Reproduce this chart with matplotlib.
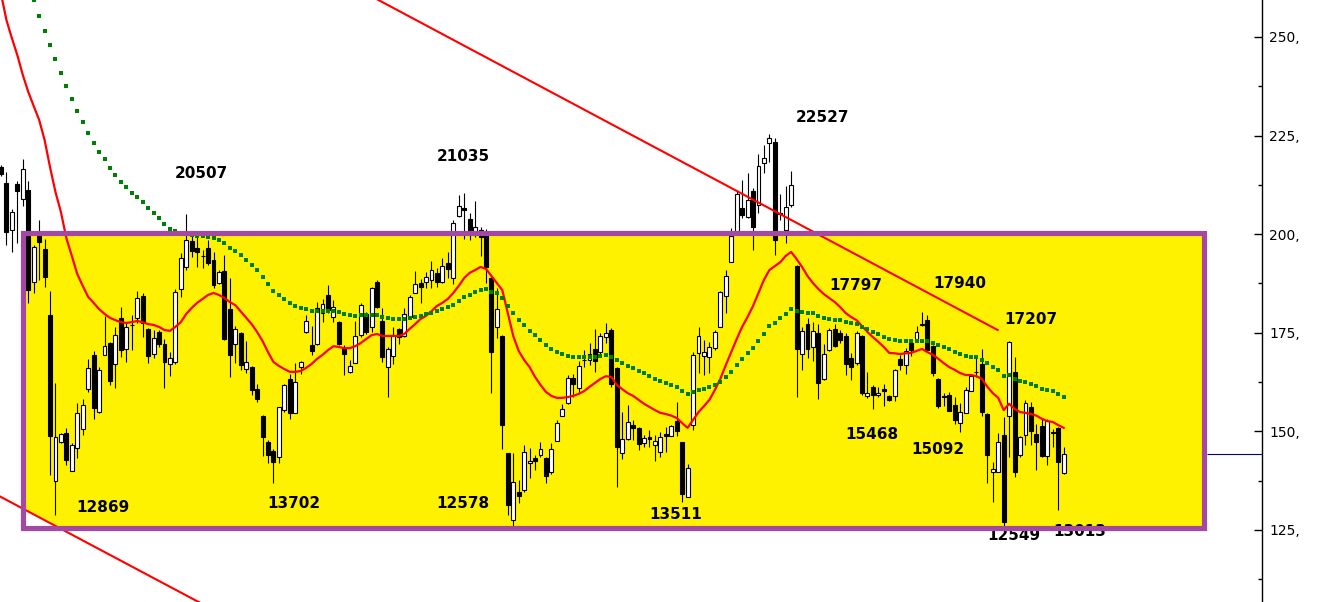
import matplotlib
matplotlib.use("Agg")
import matplotlib.pyplot as plt
from matplotlib.patches import Rectangle
import numpy as np

# ---------------- data ----------------
opens = [217.0, 212.9, 201.1, 212.7, 208.9, 211.2, 187.9, 199.5, 196.2, 179.5,
         137.4, 147.3, 149.6, 140.0, 145.8, 150.6, 160.8, 169.4, 154.9, 169.4,
         172.4, 167.1, 178.8, 170.9, 176.9, 178.8, 184.3, 176.0, 169.6, 175.2,
         172.2, 167.1, 167.6, 186.1, 191.7, 198.3, 196.5, 194.5, 196.5, 193.5,
         187.6, 190.7, 181.0, 172.2, 174.9, 165.8, 166.3, 160.8, 153.9, 147.3,
         145.0, 143.5, 155.4, 163.3, 154.7, 166.3, 175.2, 171.9, 172.2, 180.0,
         184.6, 179.0, 177.7, 171.1, 165.1, 167.3, 174.4, 179.8, 176.5, 187.9,
         178.0, 166.3, 169.1, 176.0, 174.2, 179.0, 185.1, 187.6, 187.9, 188.4,
         190.2, 187.9, 192.7, 188.9, 204.6, 206.6, 203.9, 200.3, 201.1, 199.8,
         188.9, 176.5, 174.2, 144.5, 127.5, 134.6, 135.1, 142.0, 143.3, 144.0,
         143.3, 139.7, 147.6, 153.9, 157.2, 163.5, 161.0, 168.1, 168.1, 170.9,
         170.1, 173.9, 175.7, 166.1, 144.5, 148.1, 151.6, 150.9, 147.1, 148.6,
         146.6, 144.8, 149.3, 148.8, 152.6, 147.3, 133.4, 151.6, 169.9, 169.1,
         168.9, 171.1, 176.5, 184.3, 193.0, 200.8, 206.6, 204.4, 211.0, 207.4,
         218.1, 223.1, 223.4, 205.4, 201.1, 207.4, 191.9, 169.6, 177.2, 171.4,
         174.9, 163.3, 170.6, 176.0, 174.9, 174.2, 168.6, 167.3, 174.2, 159.0,
         161.3, 159.2, 160.8, 159.0, 159.0, 168.4, 166.8, 172.4, 173.4, 177.2,
         178.2, 171.7, 163.3, 159.0, 159.2, 156.7, 152.1, 154.7, 160.2, 165.1,
         167.1, 154.4, 139.7, 139.7, 149.1, 153.9, 165.1, 144.0, 149.1, 156.2,
         149.3, 151.4, 143.8, 149.8, 150.9, 139.4]

highs = [217.5, 215.8, 206.4, 213.5, 219.1, 213.5, 197.3, 203.6, 198.8, 185.6,
         162.3, 149.6, 150.9, 147.1, 157.2, 158.2, 168.4, 170.4, 166.3, 179.3,
         172.7, 176.5, 181.5, 177.5, 179.5, 185.6, 185.1, 176.2, 175.7, 175.7,
         173.4, 170.1, 186.1, 195.2, 205.1, 199.8, 199.8, 196.0, 198.5, 195.5,
         190.9, 194.7, 188.9, 176.7, 175.2, 172.9, 166.6, 162.0, 154.2, 147.8,
         145.5, 156.2, 162.0, 164.6, 167.3, 167.8, 179.5, 176.7, 182.8, 183.6,
         187.1, 183.3, 178.0, 171.9, 168.1, 178.0, 182.5, 180.3, 186.6, 188.4,
         181.3, 171.4, 176.5, 176.2, 181.3, 184.6, 190.7, 188.6, 190.4, 193.2,
         191.4, 194.0, 195.5, 203.6, 209.9, 210.4, 205.4, 208.4, 201.8, 201.3,
         189.1, 186.4, 174.4, 144.5, 144.5, 137.7, 146.6, 145.8, 144.0, 147.3,
         143.5, 147.1, 152.9, 157.0, 164.3, 164.6, 167.8, 170.6, 172.4, 175.9,
         174.9, 177.5, 176.2, 166.3, 154.9, 156.7, 152.9, 151.1, 149.1, 150.4,
         149.1, 149.8, 151.1, 151.6, 157.5, 147.3, 141.7, 170.1, 176.5, 173.2,
         172.7, 175.7, 185.6, 190.9, 201.6, 211.2, 213.7, 215.5, 211.7, 220.3,
         222.6, 225.3, 224.4, 210.2, 212.2, 216.0, 192.2, 176.5, 178.8, 177.7,
         177.2, 172.2, 176.2, 177.2, 175.7, 174.9, 169.9, 175.5, 174.4, 165.1,
         161.8, 161.3, 162.0, 159.2, 165.8, 169.4, 171.1, 173.2, 176.7, 180.3,
         179.5, 171.9, 163.5, 159.7, 160.0, 158.7, 157.2, 161.3, 164.3, 168.6,
         170.9, 154.7, 142.2, 149.6, 153.6, 172.9, 168.9, 148.8, 158.0, 157.5,
         151.9, 153.4, 153.2, 150.6, 151.1, 146.0]

lows = [214.8, 197.3, 195.5, 197.8, 207.1, 182.5, 185.1, 188.4, 186.6, 138.9,
        128.7, 147.1, 141.5, 140.0, 143.3, 149.1, 160.0, 153.1, 154.7, 169.4,
        161.8, 161.0, 168.9, 167.6, 170.6, 177.5, 173.9, 167.3, 168.6, 171.4,
        161.0, 164.0, 167.1, 184.1, 190.9, 194.2, 191.7, 191.4, 192.2, 186.4,
        187.4, 173.2, 163.8, 167.3, 165.6, 164.8, 159.2, 157.5, 143.8, 142.0,
        137.0, 142.0, 154.9, 153.1, 154.7, 164.6, 174.9, 169.4, 171.9, 177.7,
        180.0, 177.7, 171.9, 164.3, 164.8, 167.3, 173.9, 174.7, 175.2, 181.3,
        167.6, 158.7, 167.1, 172.2, 173.9, 178.8, 185.1, 182.6, 186.4, 186.4,
        186.6, 187.6, 188.9, 187.4, 204.3, 198.8, 198.5, 199.3, 194.5, 187.6,
        159.7, 173.7, 145.5, 128.8, 125.8, 131.8, 134.6, 138.2, 140.2, 143.5,
        136.9, 139.2, 147.6, 153.9, 157.0, 158.7, 159.7, 166.3, 166.8, 165.1,
        169.4, 172.4, 161.3, 135.9, 143.0, 147.8, 147.8, 145.3, 146.0, 146.0,
        142.5, 143.5, 144.8, 148.8, 148.8, 132.1, 133.4, 150.4, 164.8, 164.3,
        164.8, 170.6, 176.5, 180.0, 193.0, 200.8, 204.1, 204.1, 196.0, 205.4,
        215.5, 218.3, 194.7, 203.6, 197.8, 206.9, 158.7, 165.6, 168.6, 167.8,
        158.2, 163.0, 170.4, 171.4, 172.4, 164.3, 163.0, 166.8, 159.2, 158.5,
        155.7, 158.7, 156.4, 157.7, 157.7, 165.6, 164.6, 169.1, 172.7, 176.7,
        170.1, 164.0, 155.9, 156.4, 155.2, 151.9, 149.8, 154.7, 160.2, 163.8,
        153.9, 136.9, 132.1, 139.7, 125.5, 143.5, 138.4, 143.5, 146.6, 146.6,
        140.2, 143.5, 141.5, 146.0, 130.1, 139.2]

closes = [215.3, 200.5, 205.6, 211.0, 216.5, 185.9, 196.8, 198.0, 189.1, 148.8,
          148.6, 149.3, 142.7, 146.6, 154.7, 156.7, 166.1, 155.9, 165.6, 171.7,
          162.8, 174.4, 170.6, 176.5, 177.0, 183.8, 177.5, 169.1, 173.7, 172.2,
          167.6, 168.6, 185.3, 194.0, 198.5, 195.7, 195.5, 194.4, 192.7, 187.1,
          190.4, 173.4, 169.4, 176.0, 166.8, 167.6, 160.5, 158.2, 148.6, 144.0,
          142.2, 156.2, 161.8, 154.7, 162.5, 167.6, 178.0, 170.4, 181.3, 182.3,
          180.8, 181.5, 172.2, 169.6, 166.6, 174.2, 182.0, 175.2, 186.4, 181.5,
          168.9, 170.9, 174.4, 173.9, 179.8, 184.1, 187.4, 186.6, 189.1, 190.9,
          187.9, 191.9, 191.2, 202.8, 207.1, 206.1, 200.3, 201.8, 199.3, 191.7,
          170.1, 181.0, 151.6, 131.3, 137.2, 133.6, 144.8, 142.5, 142.5, 145.5,
          138.7, 145.5, 152.1, 155.7, 163.5, 162.0, 166.6, 168.0, 169.6, 167.8,
          174.2, 174.9, 162.0, 146.0, 148.1, 152.4, 150.9, 146.8, 148.3, 148.1,
          147.6, 148.6, 148.8, 151.4, 150.1, 134.1, 140.7, 169.4, 174.2, 170.1,
          171.4, 175.2, 185.3, 189.4, 199.5, 210.2, 204.9, 208.7, 201.8, 217.3,
          219.3, 224.4, 198.5, 205.1, 206.9, 212.5, 170.9, 175.5, 170.9, 175.5,
          162.3, 169.6, 175.7, 171.7, 173.2, 167.1, 166.3, 174.9, 159.7, 159.7,
          159.2, 159.7, 160.2, 158.0, 165.6, 166.8, 170.4, 170.6, 175.2, 177.1,
          170.6, 164.8, 156.4, 158.7, 155.2, 152.9, 154.9, 160.5, 164.0, 165.0,
          154.9, 144.0, 140.5, 147.3, 127.0, 172.7, 139.7, 148.6, 157.2, 150.1,
          147.3, 143.8, 152.6, 149.7, 142.2, 144.2]

# red moving average, one value per candle
ma_red = [261.0, 254.3, 249.7, 245.4, 240.4, 236.1, 232.5, 229.0, 223.9, 217.0,
          210.7, 205.6, 199.0, 194.5, 189.9, 186.9, 184.1, 182.6, 181.0, 179.8,
          178.8, 178.2, 177.7, 177.5, 177.7, 178.0, 177.7, 177.2, 177.0, 176.5,
          175.7, 175.5, 176.5, 177.7, 179.8, 181.3, 182.6, 183.6, 184.6, 185.1,
          184.6, 183.8, 182.8, 182.0, 180.4, 178.8, 177.2, 175.2, 172.9, 170.1,
          167.6, 166.6, 165.8, 165.1, 165.1, 165.3, 166.1, 167.1, 168.4, 169.4,
          170.6, 171.6, 171.4, 171.1, 171.1, 171.6, 172.4, 173.4, 174.4, 174.7,
          174.2, 174.2, 174.2, 174.2, 174.7, 176.0, 177.2, 178.5, 179.3, 180.5,
          181.8, 182.6, 183.6, 185.1, 186.9, 188.9, 190.2, 190.9, 191.7, 191.2,
          189.4, 187.6, 185.8, 180.0, 174.2, 170.4, 168.1, 166.3, 163.8, 161.8,
          160.0, 159.0, 158.5, 158.5, 158.7, 159.0, 159.5, 160.2, 161.3, 162.3,
          163.3, 164.0, 163.8, 161.8, 160.7, 159.7, 159.0, 158.0, 157.0, 156.2,
          155.4, 154.7, 154.4, 154.0, 153.4, 152.1, 150.9, 152.9, 154.9, 156.4,
          158.0, 160.5, 163.3, 166.8, 170.1, 173.4, 176.5, 179.0, 181.8, 185.1,
          188.4, 190.9, 191.9, 192.9, 194.5, 195.5, 193.7, 191.7, 189.4, 187.6,
          186.1, 184.8, 183.8, 182.8, 181.5, 180.0, 179.0, 178.2, 176.7, 175.2,
          173.9, 172.7, 171.4, 169.9, 169.8, 169.6, 169.8, 169.9, 170.4, 170.9,
          170.1, 169.4, 168.4, 167.3, 166.3, 165.6, 164.8, 164.3, 164.3, 164.0,
          163.3, 161.3, 159.7, 158.5, 155.4, 157.0, 155.7, 154.9, 154.7, 154.4,
          154.0, 153.2, 152.6, 152.4, 151.6, 150.9]

# green (dotted) moving average, candles 6 .. 195
ma_green_start = 6
ma_green = [259.4, 255.3, 251.5, 248.0, 244.4, 240.9, 237.6, 234.3, 231.2, 228.5, 225.7, 223.1,
            220.8, 219.1, 216.8, 215.0, 213.2, 212.0, 210.4, 209.4, 208.2, 206.6, 205.4, 204.1, 202.6, 201.3, 200.8,
            200.3, 200.1, 199.8, 199.5, 199.5, 199.3, 199.0, 198.5, 197.8, 196.5, 195.7, 194.7, 193.5, 192.2, 190.9, 189.2, 187.4, 185.6,
            184.6, 183.6, 182.6, 181.8, 181.3, 181.0, 180.5, 180.5, 180.5, 180.5, 180.5, 180.3, 179.8, 179.5, 179.3,
            179.5, 179.5, 179.5, 179.5, 179.0, 178.8, 178.5, 178.5, 178.5, 178.8, 179.0, 179.3, 179.8, 180.0, 180.5,
            181.0, 181.5, 182.0, 183.1, 184.1, 184.6, 185.3, 185.9, 186.1, 185.3, 185.1, 183.8, 181.8, 180.0, 178.2,
            177.0, 175.4, 174.4, 173.2, 171.9, 170.9, 170.1, 169.6, 169.1, 168.9, 168.9, 168.9, 168.9, 168.9, 169.1,
            169.4, 168.9, 168.1, 167.3, 166.6, 166.1, 165.3, 164.8, 164.0, 163.3, 162.8, 162.3, 161.8, 161.3, 160.2,
            159.5, 160.0, 160.5, 160.7, 161.3, 161.8, 162.5, 163.8, 165.1, 166.8, 168.4, 169.9, 171.1, 172.9, 174.7,
            176.7, 177.5, 178.8, 179.8, 181.0, 180.5, 180.3, 180.0, 180.0, 179.3, 178.8, 178.5, 178.2, 178.2, 177.7,
            177.5, 177.2, 176.5, 176.0, 175.2, 174.7, 173.9, 173.4, 173.2, 172.9, 172.9, 172.9, 172.9, 172.9, 172.9,
            172.4, 171.9, 171.4, 170.9, 170.1, 169.6, 169.1, 168.9, 168.9, 168.1, 167.3, 166.3, 165.6, 164.0, 164.3,
            163.3, 162.8, 162.5, 162.0, 161.5, 160.7, 160.5, 160.2, 159.5, 158.7]

# trend lines (candle index, price)
trend_upper = [(60.0, 266.2), (182.9, 175.7)]
trend_lower = [(-1.0, 134.1), (40.0, 104.0)]

# annotations: text, candle index, price
labels = [("20507", 36.7, 215.3), ("21035", 84.8, 219.6), ("22527", 150.8, 229.7),
          ("17797", 156.9, 187.1), ("17940", 176.0, 187.4), ("17207", 189.0, 178.3),
          ("15468", 159.8, 149.1), ("15092", 171.9, 145.3),
          ("12869", 18.7, 130.6), ("13702", 53.8, 131.8), ("12578", 84.8, 131.8),
          ("13511", 123.9, 128.8), ("12549", 185.9, 123.5), ("13013", 198.0, 124.5)]

yticks = [125, 150, 175, 200, 225, 250]
ytick_labels = ["125,", "150,", "175,", "200,", "225,", "250,"]

# ---------------- drawing ----------------
W, H = 1318, 602
fig = plt.figure(figsize=(W / 100, H / 100), dpi=100)
fig.patch.set_facecolor("white")
ax = fig.add_axes([0, 0, 1262 / W, 1])
ax.set_facecolor("white")

ax.set_xlim(-0.18, 231.4)
ax.set_ylim(106.74, 259.38)

# yellow box
box_x0, box_x1 = 3.95, 220.8
box_y0, box_y1 = 125.6, 200.2
ax.add_patch(Rectangle((box_x0, box_y0), box_x1 - box_x0, box_y1 - box_y0,
                       facecolor="#FFF200", edgecolor="none", zorder=0.5))

# lower trend line with white area beneath it
(lx0, ly0), (lx1, ly1) = trend_lower
ax.fill_between([lx0, lx1], [ly0, ly1], 90, color="white", zorder=1)
ax.plot([lx0, lx1], [ly0, ly1], color="red", lw=1.5, zorder=3)
(ux0, uy0), (ux1, uy1) = trend_upper
ax.plot([ux0, ux1], [uy0, uy1], color="red", lw=1.5, zorder=3)

# candles
o = np.array(opens); h = np.array(highs); l = np.array(lows); c = np.array(closes)
x = np.arange(len(o))
up = c >= o
ax.vlines(x, l, h, color="black", lw=0.8, zorder=2)
body_lo = np.minimum(o, c)
body_h = np.maximum(np.abs(c - o), 0.15)
ax.bar(x[up], body_h[up], bottom=body_lo[up], width=0.72, facecolor="white",
       edgecolor="black", linewidth=0.8, zorder=2.1)
ax.bar(x[~up], body_h[~up], bottom=body_lo[~up], width=0.72, facecolor="black",
       edgecolor="black", linewidth=0.8, zorder=2.1)

# moving averages
ax.plot(x, ma_red, color="red", lw=1.6, zorder=3)
gx = np.arange(ma_green_start, ma_green_start + len(ma_green))
ax.plot(gx, ma_green, linestyle="none", marker="s", ms=3.0, mew=0,
        color="#008000", zorder=3)

# annotations
for t, tx, ty in labels:
    ax.text(tx, ty, t, ha="center", va="center", fontsize=11, fontweight="bold",
            family="DejaVu Sans", color="black", zorder=3.5)

# purple border
ax.add_patch(Rectangle((box_x0, box_y0), box_x1 - box_x0, box_y1 - box_y0,
                       fill=False, edgecolor="#A349A4", linewidth=3.7,
                       joinstyle="miter", zorder=4))

# last price marker
ax.hlines(closes[-1], 221.3, 231.4, color="#000080", lw=0.8, zorder=3)

# axis styling
for s in ["top", "left", "bottom"]:
    ax.spines[s].set_visible(False)
ax.spines["right"].set_color("black")
ax.spines["right"].set_linewidth(1.0)
ax.set_xticks([])
ax.yaxis.tick_right()
ax.set_yticks(yticks)
ax.set_yticklabels(ytick_labels)
ax.set_yticks(np.arange(112.5, 260, 25), minor=True)
ax.tick_params(axis="y", which="major", direction="in", length=6, width=1,
               pad=5, labelsize=10, colors="black")
ax.tick_params(axis="y", which="minor", direction="in", length=3, width=1)

fig.savefig("out.png", dpi=100)
